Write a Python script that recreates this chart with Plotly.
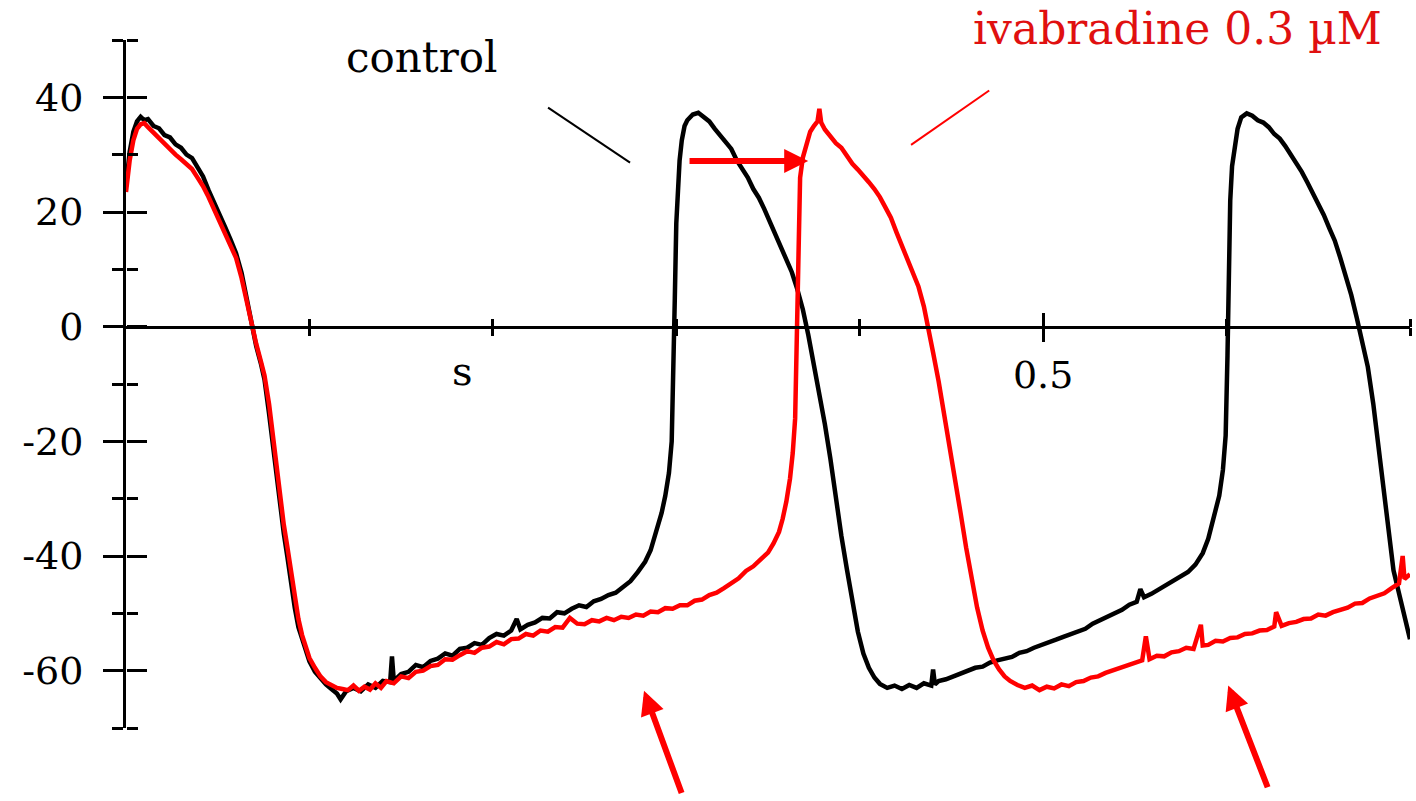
import plotly.graph_objects as go

# ---------------- data (time in s, membrane potential in mV) ----------------
control_t = [
    0.000, 0.002, 0.004, 0.006, 0.008, 0.010, 0.012, 0.015, 0.018, 0.021, 0.024, 0.027,
    0.030, 0.033, 0.036, 0.039, 0.042, 0.045, 0.048, 0.051, 0.054, 0.057, 0.060, 0.063,
    0.066, 0.0685, 0.071, 0.0735, 0.0755, 0.078, 0.080, 0.082, 0.084, 0.086, 0.088, 0.090,
    0.092, 0.094, 0.096, 0.098, 0.100, 0.103, 0.106, 0.109, 0.112, 0.115, 0.117, 0.120,
    0.124, 0.128, 0.132, 0.136, 0.140, 0.144, 0.145, 0.146, 0.150, 0.154, 0.158, 0.162,
    0.166, 0.170, 0.174, 0.178, 0.182, 0.186, 0.190, 0.194, 0.198, 0.202, 0.206, 0.210,
    0.213, 0.215, 0.219, 0.223, 0.227, 0.231, 0.235, 0.239, 0.243, 0.247, 0.251, 0.255,
    0.259, 0.263, 0.267, 0.271, 0.275, 0.279, 0.283, 0.286, 0.289, 0.292, 0.294, 0.296,
    0.2975, 0.2985, 0.2992, 0.3000, 0.3008, 0.3018, 0.3030, 0.3045, 0.306, 0.309, 0.312, 0.315,
    0.318, 0.321, 0.324, 0.327, 0.330, 0.333, 0.336, 0.339, 0.342, 0.345, 0.348, 0.351,
    0.354, 0.357, 0.360, 0.363, 0.366, 0.369, 0.372, 0.375, 0.378, 0.381, 0.384, 0.387,
    0.390, 0.393, 0.396, 0.399, 0.402, 0.405, 0.408, 0.411, 0.415, 0.419, 0.423, 0.427,
    0.431, 0.435, 0.439, 0.440, 0.441, 0.443, 0.447, 0.451, 0.455, 0.459, 0.463, 0.467,
    0.471, 0.475, 0.479, 0.483, 0.487, 0.491, 0.495, 0.499, 0.503, 0.507, 0.511, 0.515,
    0.519, 0.523, 0.527, 0.531, 0.535, 0.539, 0.543, 0.547, 0.551, 0.553, 0.555, 0.559,
    0.563, 0.567, 0.571, 0.575, 0.579, 0.583, 0.587, 0.590, 0.593, 0.596, 0.598, 0.5995,
    0.6005, 0.6012, 0.602, 0.603, 0.6045, 0.606, 0.608, 0.611, 0.614, 0.617, 0.620, 0.623,
    0.626, 0.629, 0.632, 0.635, 0.638, 0.641, 0.644, 0.647, 0.650, 0.653, 0.656, 0.659,
    0.662, 0.665, 0.668, 0.671, 0.674, 0.677, 0.680, 0.683, 0.686, 0.689, 0.691, 0.694,
    0.697, 0.700,
]
control_mv = [
    24.5, 30.5, 34.0, 35.8, 36.6, 36.0, 36.2, 35.0, 34.6, 33.4, 33.0, 31.8,
    31.2, 30.0, 29.4, 27.6, 26.2, 23.8, 21.8, 19.6, 17.4, 15.2, 12.8, 9.4,
    4.6, 0.2, -3.4, -6.4, -9.2, -15.2, -20.8, -26.0, -31.4, -36.0, -40.2, -45.0,
    -49.0, -52.4, -54.6, -56.8, -58.4, -60.2, -61.4, -62.4, -63.2, -64.0, -65.0, -63.6,
    -63.0, -63.6, -62.4, -63.0, -61.8, -62.0, -57.5, -61.8, -60.6, -60.2, -59.0, -59.4,
    -58.3, -57.9, -57.0, -57.4, -56.2, -56.0, -55.2, -55.5, -54.3, -53.6, -53.9, -53.0,
    -51.0, -52.8, -52.0, -51.6, -50.8, -50.9, -49.8, -50.0, -49.2, -48.6, -48.9, -47.9,
    -47.5, -46.8, -46.4, -45.5, -44.4, -42.8, -41.0, -39.0, -36.0, -32.5, -29.5, -25.5,
    -20.0, -8.0, 5.0, 18.0, 25.0, 29.0, 32.5, 35.0, 36.0, 37.0, 37.3, 36.5,
    35.8, 34.5, 33.3, 32.0, 31.0, 29.0, 27.5, 26.0, 24.0, 22.5, 20.5, 18.3,
    16.5, 14.0, 12.0, 9.5, 6.5, 3.0, -1.5, -6.5, -11.5, -17.0, -23.0, -30.0,
    -36.5, -42.3, -48.0, -53.2, -57.0, -59.5, -61.2, -62.3, -63.0, -62.6, -63.2, -62.5,
    -63.0, -62.2, -62.6, -59.8, -62.4, -61.8, -61.5, -61.0, -60.5, -60.2, -59.5, -59.3,
    -58.6, -58.2, -57.8, -57.6, -56.9, -56.6, -56.0, -55.6, -55.1, -54.6, -54.1, -53.6,
    -53.0, -52.7, -51.8, -51.2, -50.6, -49.8, -49.4, -48.5, -48.0, -45.8, -47.2, -46.6,
    -45.8, -45.2, -44.2, -43.5, -42.8, -41.5, -39.5, -37.0, -33.5, -29.5, -25.0, -19.0,
    -5.0, 10.0, 22.0, 28.0, 32.0, 34.5, 36.5, 37.2, 36.8, 36.0, 35.6, 34.8,
    33.6, 32.8, 31.5, 30.0, 28.6, 27.0, 25.2, 23.4, 21.3, 19.5, 17.2, 15.0,
    12.0, 9.0, 5.5, 1.5, -3.0, -7.0, -13.5, -21.0, -30.0, -37.5, -42.5, -46.5,
    -50.5, -54.5,
]

ivab_t = [
    0.000, 0.002, 0.004, 0.006, 0.008, 0.010, 0.012, 0.015, 0.018, 0.021, 0.024, 0.027,
    0.030, 0.033, 0.036, 0.039, 0.042, 0.045, 0.048, 0.051, 0.054, 0.057, 0.060, 0.063,
    0.066, 0.0685, 0.071, 0.0735, 0.0755, 0.078, 0.080, 0.082, 0.084, 0.086, 0.088, 0.090,
    0.092, 0.094, 0.096, 0.098, 0.100, 0.103, 0.106, 0.109, 0.112, 0.115, 0.118, 0.121,
    0.124, 0.127, 0.130, 0.133, 0.136, 0.139, 0.142, 0.146, 0.150, 0.154, 0.158, 0.162,
    0.166, 0.170, 0.174, 0.178, 0.182, 0.186, 0.190, 0.194, 0.198, 0.202, 0.206, 0.210,
    0.214, 0.218, 0.222, 0.226, 0.230, 0.234, 0.238, 0.242, 0.246, 0.250, 0.254, 0.258,
    0.262, 0.266, 0.270, 0.274, 0.278, 0.282, 0.286, 0.290, 0.294, 0.298, 0.302, 0.306,
    0.310, 0.314, 0.318, 0.322, 0.326, 0.330, 0.334, 0.338, 0.342, 0.346, 0.350, 0.353,
    0.356, 0.358, 0.360, 0.362, 0.3635, 0.3648, 0.3656, 0.3662, 0.3668, 0.3675, 0.369, 0.371,
    0.373, 0.375, 0.377, 0.378, 0.379, 0.381, 0.384, 0.387, 0.390, 0.393, 0.396, 0.399,
    0.402, 0.405, 0.408, 0.411, 0.414, 0.417, 0.420, 0.423, 0.426, 0.429, 0.432, 0.435,
    0.437, 0.440, 0.443, 0.446, 0.449, 0.452, 0.455, 0.458, 0.461, 0.464, 0.467, 0.470,
    0.473, 0.476, 0.479, 0.482, 0.486, 0.490, 0.494, 0.498, 0.502, 0.506, 0.510, 0.514,
    0.518, 0.522, 0.526, 0.530, 0.534, 0.538, 0.542, 0.546, 0.550, 0.554, 0.556, 0.558,
    0.562, 0.566, 0.570, 0.574, 0.578, 0.582, 0.586, 0.587, 0.590, 0.594, 0.598, 0.602,
    0.606, 0.610, 0.614, 0.618, 0.622, 0.626, 0.627, 0.630, 0.634, 0.638, 0.642, 0.646,
    0.650, 0.654, 0.658, 0.662, 0.666, 0.670, 0.674, 0.678, 0.682, 0.686, 0.690, 0.694,
    0.696, 0.697, 0.700,
]
ivab_mv = [
    23.5, 29.0, 32.5, 34.5, 35.3, 35.5, 34.8, 33.8, 33.0, 31.8, 31.0, 30.0,
    29.2, 28.3, 27.5, 26.0, 24.5, 22.6, 20.5, 18.6, 16.3, 14.2, 12.0, 8.5,
    4.0, 0.0, -3.0, -6.0, -8.5, -13.5, -19.0, -24.5, -30.0, -34.5, -38.5, -43.0,
    -47.5, -51.0, -53.8, -56.0, -57.8, -59.5, -61.0, -62.0, -62.6, -63.0, -63.2, -63.4,
    -62.6, -63.5, -62.8, -63.3, -62.2, -63.0, -61.8, -62.2, -61.0, -61.3, -60.2, -60.0,
    -59.2, -59.0, -58.0, -58.1, -57.3, -56.6, -56.9, -56.0, -55.8, -55.0, -55.4, -54.5,
    -54.4, -53.6, -53.9, -53.0, -53.2, -52.4, -52.5, -50.8, -51.8, -51.9, -51.2, -51.4,
    -50.8, -51.2, -50.6, -50.8, -50.2, -50.4, -49.7, -49.8, -49.1, -49.2, -48.6, -48.6,
    -47.8, -47.6, -46.8, -46.4, -45.6, -44.8, -43.9, -42.6, -41.8, -40.6, -39.4, -37.8,
    -35.8, -33.5, -30.5, -26.5, -22.0, -16.0, -5.0, 8.0, 20.0, 26.0, 29.5, 32.0,
    34.0, 35.0, 35.8, 38.0, 35.6, 34.4, 33.2, 32.0, 31.2, 29.8, 28.4, 27.4,
    26.4, 25.2, 24.0, 22.6, 20.8, 19.0, 16.5, 14.2, 12.0, 9.6, 7.0, 3.5,
    0.5, -4.5, -9.5, -15.0, -20.5, -26.5, -32.5, -38.5, -44.0, -49.0, -53.0, -56.0,
    -58.2, -59.8, -61.0, -61.8, -62.5, -63.0, -62.6, -63.4, -62.8, -63.1, -62.4, -62.7,
    -62.0, -61.8, -61.2, -61.0, -60.4, -60.0, -59.5, -59.0, -58.8, -58.2, -54.0, -58.0,
    -57.4, -57.5, -56.8, -56.6, -56.0, -56.2, -52.0, -55.6, -55.5, -54.8, -54.9, -54.3,
    -54.2, -53.6, -53.5, -53.0, -52.9, -52.3, -49.8, -52.2, -51.7, -51.5, -51.0, -50.9,
    -50.2, -50.4, -49.8, -49.4, -49.0, -48.3, -48.2, -47.4, -46.9, -46.5, -45.6, -44.8,
    -40.0, -44.0, -43.2,
]

# axis ticks
y_major = [-60, -40, -20, 0, 20, 40]
y_major_text = ["-60", "-40", "-20", "0", "20", "40"]
y_minor = [-70, -50, -30, -10, 10, 30, 50]
x_major = [0.5]
x_major_text = ["0.5"]
x_minor = [0.1, 0.2, 0.3, 0.4, 0.6, 0.7]

X_RANGE = [0, 0.7]
Y_RANGE = [-70, 50]

RED = "#ff0000"
FONT = "DejaVu Serif"

fig = go.Figure()
fig.add_trace(go.Scatter(x=control_t, y=control_mv, mode="lines",
                         line=dict(color="#000000", width=4.5), name="control"))
fig.add_trace(go.Scatter(x=ivab_t, y=ivab_mv, mode="lines",
                         line=dict(color=RED, width=4.5), name="ivabradine 0.3 µM"))

zero_pos = (0 - Y_RANGE[0]) / (Y_RANGE[1] - Y_RANGE[0])

fig.update_layout(
    width=1416, height=801,
    margin=dict(l=126, r=6, t=40, b=73),
    paper_bgcolor="white", plot_bgcolor="white",
    showlegend=False,
    font=dict(family=FONT, color="black", size=38),
    xaxis=dict(range=X_RANGE, anchor="free", position=zero_pos,
               showline=True, linecolor="black", linewidth=2.5,
               showgrid=False, zeroline=False,
               tickmode="array", tickvals=x_major, ticktext=x_major_text,
               ticks="outside", ticklen=14, tickwidth=3, tickcolor="black",
               tickfont=dict(family=FONT, size=38, color="black"),
               minor=dict(tickvals=x_minor, ticks="outside", ticklen=8,
                          tickwidth=3, tickcolor="black", showgrid=False)),
    xaxis2=dict(range=X_RANGE, overlaying="x", side="top", anchor="free",
                position=zero_pos, showline=False, showgrid=False, zeroline=False,
                showticklabels=False,
                tickmode="array", tickvals=x_major,
                ticks="outside", ticklen=14, tickwidth=3, tickcolor="black",
                minor=dict(tickvals=x_minor, ticks="outside", ticklen=8,
                           tickwidth=3, tickcolor="black", showgrid=False)),
    yaxis=dict(range=Y_RANGE, showline=True, linecolor="black", linewidth=3,
               showgrid=False, zeroline=False,
               tickmode="array", tickvals=y_major, ticktext=y_major_text,
               ticks="outside", ticklen=20, tickwidth=2.5, tickcolor="black",
               ticklabelstandoff=12,
               tickfont=dict(family=FONT, size=38, color="black"),
               minor=dict(tickvals=y_minor, ticks="outside", ticklen=11,
                          tickwidth=2.5, tickcolor="black", showgrid=False)),
    yaxis2=dict(range=Y_RANGE, overlaying="y", side="right", anchor="free",
                position=0, showline=False, showgrid=False, zeroline=False,
                showticklabels=False,
                tickmode="array", tickvals=y_major,
                ticks="outside", ticklen=20, tickwidth=2.5, tickcolor="black",
                minor=dict(tickvals=y_minor, ticks="outside", ticklen=11,
                           tickwidth=2.5, tickcolor="black", showgrid=False)),
)
# dummy trace to activate the overlay axes
fig.add_trace(go.Scatter(x=[None], y=[None], xaxis="x2", yaxis="y2",
                         showlegend=False, hoverinfo="skip"))

# labels
fig.add_annotation(x=0.1614, y=46.9, xref="x", yref="y", text="control",
                   showarrow=False, yanchor="middle",
                   font=dict(family=FONT, size=42, color="black"))
fig.add_annotation(x=0.573, y=1.016, xref="x", yref="paper", text="ivabradine 0.3 µM",
                   showarrow=False, yanchor="middle",
                   font=dict(family=FONT, size=44, color="#e01010"))
fig.add_annotation(x=0.1832, y=-7.8, xref="x", yref="y", text="s",
                   showarrow=False, yanchor="middle",
                   font=dict(family=FONT, size=40, color="black"))

# pointer lines from labels
fig.add_shape(type="line", x0=0.2301, y0=38.2, x1=0.2748, y1=28.6,
              xref="x", yref="y", line=dict(color="black", width=2))
fig.add_shape(type="line", x0=0.428, y0=31.7, x1=0.4706, y1=41.2,
              xref="x", yref="y", line=dict(color=RED, width=2))

# arrows (tip = x,y ; tail = ax,ay)
arrows = [
    dict(x=0.3719, y=28.9, ax=0.3064, ay=28.9),
    dict(x=0.2824, y=-63.5, ax=0.3032, ay=-81.6),
    dict(x=0.6009, y=-62.6, ax=0.6227, ay=-80.6),
]
for a in arrows:
    fig.add_annotation(x=a["x"], y=a["y"], ax=a["ax"], ay=a["ay"],
                       xref="x", yref="y", axref="x", ayref="y",
                       text="", showarrow=True, arrowhead=2, arrowsize=0.8,
                       arrowwidth=6, arrowcolor=RED, standoff=0)

fig.write_html("out.html")
